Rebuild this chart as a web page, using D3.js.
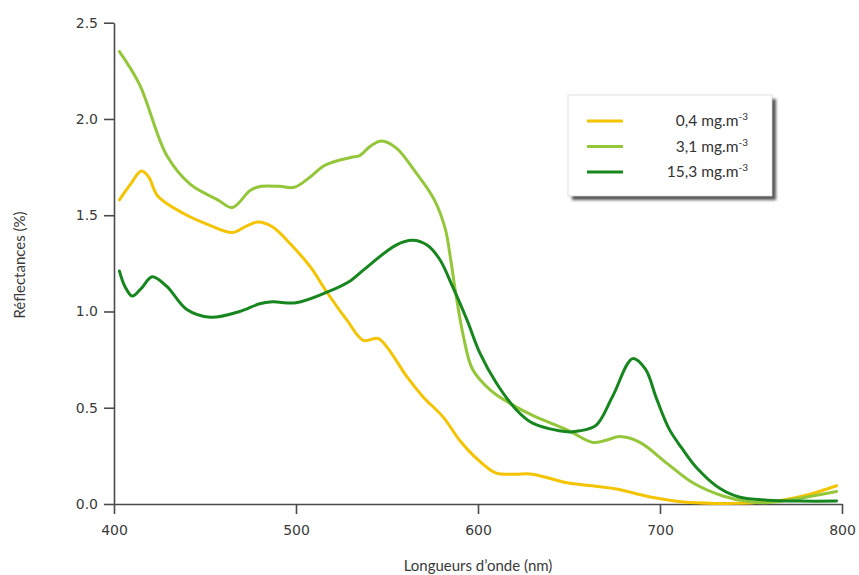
<!DOCTYPE html>
<html><head><meta charset="utf-8">
<script src="https://cdn.jsdelivr.net/npm/d3@7"></script>
<style>body{margin:0;background:#fff}svg{display:block}</style>
</head><body>
<svg id="c" width="859" height="575"></svg>
<script>
const xTicks = [400, 500, 600, 700, 800];
const yTicks = [0, 0.5, 1.0, 1.5, 2.0, 2.5];
const seriesNames = ["0,4 mg.m", "3,1 mg.m", "15,3 mg.m"];
const seriesColors = ["#f5c400", "#94c63a", "#17861f"];

const wlLow = [403,409,415,419,424,438,452,465,472,479,487,498,508,517,528,537,545,550,561,570,581,590,600,610,620,630,649,667,676,694,713,731,749,767,782,797];
const valLow = [1.58,1.66,1.73,1.70,1.60,1.51,1.45,1.41,1.44,1.465,1.44,1.34,1.23,1.10,0.955,0.85,0.86,0.815,0.66,0.555,0.45,0.33,0.23,0.16,0.155,0.155,0.11,0.09,0.078,0.038,0.01,0.003,0.005,0.02,0.05,0.095];

const wlMid = [403,414,429,442,457,465,475,481,491,499,508,516,530,535,541,547,555,566,576,582,585,588,592,597,607,618,630,649,663,670,678,689,704,718,735,750,760,777,797];
const valMid = [2.35,2.18,1.81,1.66,1.58,1.54,1.63,1.65,1.65,1.645,1.70,1.76,1.80,1.81,1.86,1.885,1.85,1.72,1.58,1.43,1.27,1.08,0.87,0.70,0.59,0.52,0.46,0.385,0.32,0.33,0.35,0.32,0.21,0.11,0.04,0.01,0.008,0.03,0.065];

const wlHigh = [403,406,410,415,421,429,440,453,469,480,487,500,517,530,537,555,564,572,579,586,594,601,610,621,630,649,656,665,674,685,692,698,705,712,720,733,744,759,777,797];
const valHigh = [1.21,1.13,1.08,1.12,1.18,1.13,1.01,0.97,1.00,1.04,1.05,1.045,1.10,1.16,1.215,1.345,1.37,1.345,1.27,1.13,0.955,0.785,0.63,0.49,0.42,0.375,0.38,0.41,0.56,0.755,0.70,0.55,0.39,0.29,0.19,0.08,0.035,0.02,0.015,0.015];

const wls = [wlLow, wlMid, wlHigh];
const vals = [valLow, valMid, valHigh];

const svg = d3.select("#c");
const x = d3.scaleLinear().domain([400, 800]).range([114, 842]);
const y = d3.scaleLinear().domain([0, 2.5]).range([504, 22.7]);
const axisColor = "#4a4a4a";
const tickFont = "DejaVu Sans, Verdana, sans-serif";

const gx = svg.append("g").attr("transform", "translate(0,504)")
  .call(d3.axisBottom(x).tickValues(xTicks).tickFormat(d3.format("d")).tickSize(10).tickSizeOuter(0).tickPadding(11));
const gy = svg.append("g").attr("transform", "translate(114,0)")
  .call(d3.axisLeft(y).tickValues(yTicks).tickFormat(d3.format(".1f")).tickSize(10).tickSizeOuter(0).tickPadding(6));
[gx, gy].forEach(g => {
  g.select(".domain").attr("stroke", axisColor).attr("stroke-width", 1.6);
  g.selectAll(".tick line").attr("stroke", axisColor).attr("stroke-width", 1.6);
  g.selectAll(".tick text").attr("fill", "#3a3a3a").style("font-family", tickFont).style("font-size", "14px");
});

const line = d3.line().curve(d3.curveCatmullRom.alpha(0.5));
vals.forEach((v, i) => {
  const pts = v.map((d, j) => [x(wls[i][j]), y(d)]);
  svg.append("path").attr("d", line(pts)).attr("fill", "none")
    .attr("stroke", seriesColors[i]).attr("stroke-width", 3).attr("stroke-linejoin", "round").attr("stroke-linecap", "round");
});

svg.append("text").attr("x", 478).attr("y", 571).attr("text-anchor", "middle")
  .style("font-family", "Lato, 'Open Sans', sans-serif").style("font-size", "15px").attr("fill", "#3a3a3a")
  .text("Longueurs d’onde (nm)");
svg.append("text").attr("transform", "translate(25,265) rotate(-90)").attr("text-anchor", "middle")
  .style("font-family", "Lato, 'Open Sans', sans-serif").style("font-size", "15px").attr("fill", "#3a3a3a")
  .text("Réflectances (%)");

// legend
const defs = svg.append("defs");
const f = defs.append("filter").attr("id", "blur").attr("x", "-10%").attr("y", "-10%").attr("width", "130%").attr("height", "130%");
f.append("feGaussianBlur").attr("stdDeviation", 1.5);
const lg = svg.append("g");
lg.append("rect").attr("x", 572).attr("y", 99).attr("width", 204).attr("height", 101).attr("fill", "#555").attr("filter", "url(#blur)");
lg.append("rect").attr("x", 568).attr("y", 95).attr("width", 204).attr("height", 101).attr("fill", "#fff").attr("stroke", "#d8d8d8").attr("stroke-width", 0.8);
seriesNames.forEach((n, i) => {
  const yy = 121 + i * 25.5;
  lg.append("line").attr("x1", 587).attr("x2", 623).attr("y1", yy).attr("y2", yy)
    .attr("stroke", seriesColors[i]).attr("stroke-width", 3);
  const t = lg.append("text").attr("x", 748).attr("y", yy + 5).attr("text-anchor", "end")
    .style("font-family", "Lato, 'Open Sans', sans-serif").style("font-size", "15.5px").attr("fill", "#333");
  t.append("tspan").text(n);
  t.append("tspan").attr("dy", -6).style("font-size", "10px").text("-3");
});
</script>
</body></html>
